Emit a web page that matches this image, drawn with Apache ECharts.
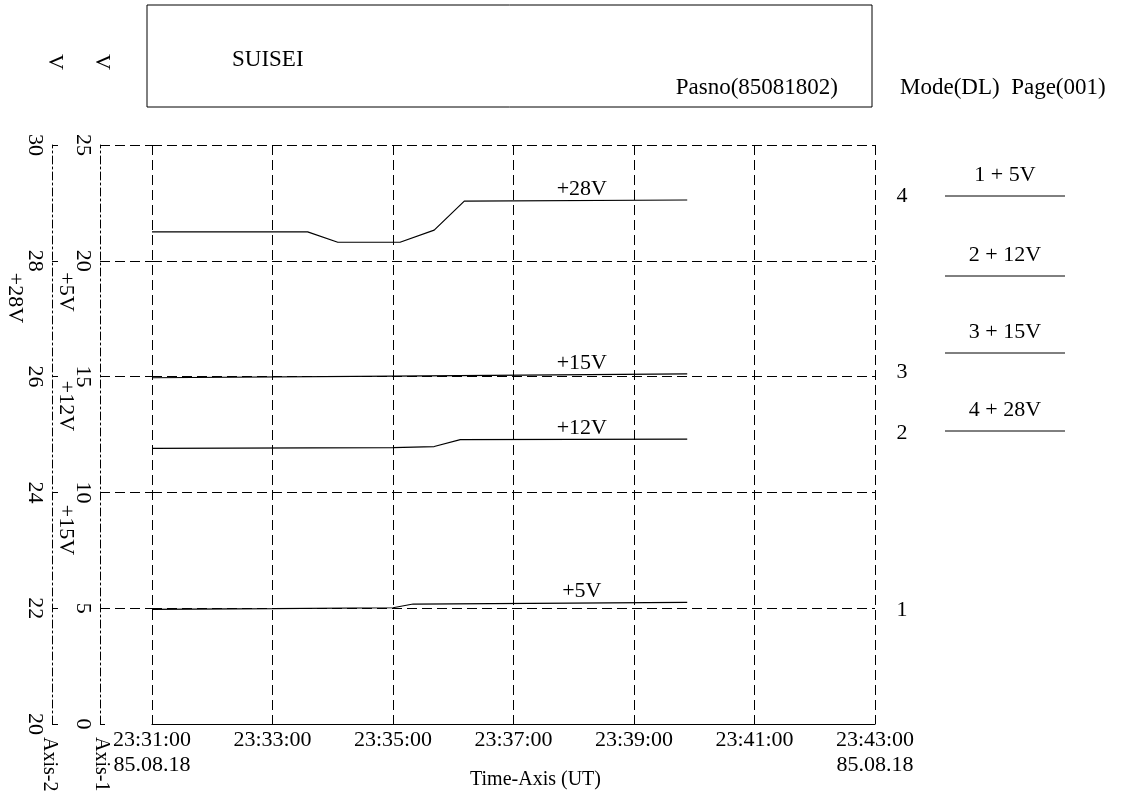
<!DOCTYPE html>
<html>
<head>
<meta charset="utf-8">
<script src="https://cdn.jsdelivr.net/npm/echarts@6/dist/echarts.min.js"></script>
<style>
  html, body { margin: 0; padding: 0; background: #fff; }
  #chart { width: 1130px; height: 810px; }
</style>
</head>
<body>
<div id="chart"></div>
<script>
// time axis runs 23:31:00 .. 23:43:00, ticks every 2 minutes
const startTime = '23:31:00'
const endTime = '23:43:00'
const dateText = '85.08.18'
const labelTime = '23:38:08'

const names = ['+5V', '+12V', '+15V', '+28V']

const t5 = ['23:31:00', '23:33:00', '23:35:00', '23:35:20', '23:39:53']
const v5 = [4.95, 4.98, 5.02, 5.18, 5.25]

const t12 = ['23:31:00', '23:35:00', '23:35:41', '23:36:07', '23:39:53']
const v12 = [11.9, 11.93, 11.98, 12.28, 12.3]

const t15 = ['23:31:00', '23:35:00', '23:39:53']
const v15 = [14.95, 15.02, 15.12]

// +28V is read on Axis-2 (20..30)
const t28 = ['23:31:00', '23:33:35', '23:34:05', '23:35:07', '23:35:41', '23:36:11', '23:39:53']
const v28 = [28.5, 28.5, 28.32, 28.32, 28.53, 29.03, 29.05]

const toSec = (t) => {
  const [h, m, s] = t.split(':').map(Number)
  return h * 3600 + m * 60 + s
}
const t0 = toSec(startTime)
const rel = (t) => toSec(t) - t0
const pad = (n) => String(n).padStart(2, '0')
const fmt = (v) => {
  const s = t0 + v
  return pad(Math.floor(s / 3600)) + ':' + pad(Math.floor(s % 3600 / 60)) + ':' + pad(s % 60)
}

const FONT = '"Liberation Serif", "DejaVu Serif", serif'
const dash = [10, 5]

const makeSeries = (name, times, vals, yIdx) => ({
  name,
  type: 'line',
  xAxisIndex: 0,
  yAxisIndex: yIdx,
  showSymbol: false,
  animation: false,
  lineStyle: { color: '#000', width: 1.2 },
  data: times.map((t, i) => [rel(t), vals[i]]),
  markPoint: {
    symbol: 'circle',
    symbolSize: 0,
    animation: false,
    label: {
      show: true,
      position: 'top',
      distance: 0,
      color: '#000',
      fontFamily: FONT,
      fontSize: 22,
      formatter: name
    },
    data: [{ coord: [rel(labelTime), vals[vals.length - 1]] }]
  }
})

const txt = (x, y, text, extra) => Object.assign({
  type: 'text', x, y,
  style: { text, fill: '#000', font: '22px ' + FONT, align: 'center', verticalAlign: 'middle' }
}, extra || {})
const rtxt = (x, y, text) => txt(x, y, text, { rotation: -Math.PI / 2 })
const ltxt = (x, y, text, align, size) => ({
  type: 'text', x, y,
  style: { text, fill: '#000', font: (size || 22) + 'px ' + FONT, align, verticalAlign: 'middle' }
})

const legendY = [186, 266, 343, 421]
const indexY = [610, 433, 372, 196]
const graphics = [
  {
    type: 'rect',
    shape: { x: 147, y: 5, width: 725, height: 102 },
    style: { fill: 'none', stroke: '#000', lineWidth: 1 }
  },
  ltxt(232, 60, 'SUISEI', 'left', 23),
  ltxt(838, 88, 'Pasno(85081802)', 'right', 23),
  ltxt(900, 88, 'Mode(DL)  Page(001)', 'left', 23),
  rtxt(55, 62, 'V'),
  rtxt(102, 62, 'V'),
  rtxt(15, 298, '+28V'),
  rtxt(66, 292, '+5V'),
  rtxt(66, 406, '+12V'),
  rtxt(66, 530, '+15V'),
  Object.assign(ltxt(49, 737, 'Axis-2', 'left', 20), { rotation: -Math.PI / 2 }),
  Object.assign(ltxt(101, 737, 'Axis-1', 'left', 20), { rotation: -Math.PI / 2 })
]
names.forEach((n, i) => {
  graphics.push(txt(1005, legendY[i] - 11, (i + 1) + ' + ' + n.slice(1)))
  graphics.push({
    type: 'line',
    shape: { x1: 945, y1: legendY[i] + 10, x2: 1065, y2: legendY[i] + 10 },
    style: { stroke: '#000', lineWidth: 1 }
  })
  graphics.push(txt(902, indexY[i], String(i + 1)))
})

const chart = echarts.init(document.getElementById('chart'), null, { renderer: 'canvas' })
chart.setOption({
  backgroundColor: '#fff',
  animation: false,
  textStyle: { fontFamily: FONT, color: '#000' },
  grid: [
    { left: 152, right: 255, top: 145, bottom: 86, containLabel: false, outerBoundsMode: 'none' },
    { left: 100, right: 978, top: 145, bottom: 86, containLabel: false, outerBoundsMode: 'none' }
  ],
  xAxis: [
    {
      type: 'value',
      gridIndex: 0,
      min: 0,
      max: rel(endTime),
      interval: 120,
      axisLine: { show: true, onZero: false, lineStyle: { color: '#000', width: 1.2 } },
      axisTick: { show: false },
      axisLabel: {
        color: '#000',
        fontFamily: FONT,
        fontSize: 22,
        margin: 4,
        lineHeight: 25,
        formatter: (v) => (v === 0 || v === rel(endTime)) ? fmt(v) + '\n' + dateText : fmt(v)
      },
      splitLine: { show: true, lineStyle: { color: '#000', type: dash, width: 1 } },
      name: 'Time-Axis (UT)',
      nameLocation: 'middle',
      nameGap: 46,
      nameMoveOverlap: false,
      nameTextStyle: { color: '#000', fontFamily: FONT, fontSize: 20, padding: [0, 0, 0, 44] }
    },
    { type: 'value', gridIndex: 1, min: 0, max: 1, show: true,
      axisLine: { show: false }, axisTick: { show: false }, axisLabel: { show: false }, splitLine: { show: false } }
  ],
  yAxis: [
    {
      type: 'value',
      gridIndex: 0,
      position: 'left',
      offset: 52,
      min: 0,
      max: 25,
      interval: 5,
      axisLine: { show: true, onZero: false, lineStyle: { color: '#000', width: 1, type: [8, 3, 2, 3] } },
      axisTick: { show: true, inside: true, length: 5, lineStyle: { color: '#000' } },
      axisLabel: { color: '#000', fontFamily: FONT, fontSize: 22, rotate: -90, margin: 6 },
      splitLine: { show: true, lineStyle: { color: '#000', type: dash, width: 1 } }
    },
    {
      type: 'value',
      gridIndex: 0,
      position: 'left',
      offset: 100,
      min: 20,
      max: 30,
      interval: 2,
      axisLine: { show: true, onZero: false, lineStyle: { color: '#000', width: 1, type: [8, 3, 2, 3] } },
      axisTick: { show: true, inside: true, length: 6, lineStyle: { color: '#000' } },
      axisLabel: { color: '#000', fontFamily: FONT, fontSize: 22, rotate: -90, margin: 6 },
      splitLine: { show: false }
    },
    {
      type: 'value',
      gridIndex: 1,
      min: 0,
      max: 25,
      interval: 5,
      axisLine: { show: false, onZero: false },
      axisTick: { show: false },
      axisLabel: { show: false },
      splitLine: { show: true, showMinLine: false, lineStyle: { color: '#000', type: dash, width: 1 } }
    }
  ],
  series: [
    makeSeries(names[0], t5, v5, 0),
    makeSeries(names[1], t12, v12, 0),
    makeSeries(names[2], t15, v15, 0),
    makeSeries(names[3], t28, v28, 1)
  ],
  graphic: graphics
})
</script>
</body>
</html>
